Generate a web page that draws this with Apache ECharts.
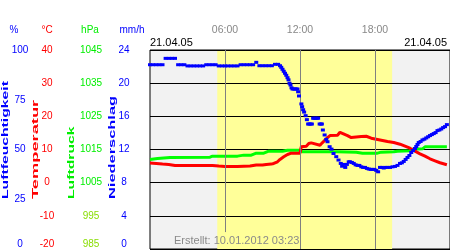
<!DOCTYPE html>
<html><head><meta charset="utf-8">
<script src="https://cdn.jsdelivr.net/npm/echarts@6/dist/echarts.min.js"></script>
<style>html,body{margin:0;padding:0;background:#fff}#c{width:450px;height:250px}</style>
</head><body><div id="c"></div>
<script>
// ---- data (hours since 00:00, value) ----
const humidity = [
 [0,92.6],[0.25,92.6],[0.5,92.6],[0.75,92.6],[1.0,92.6],
 [1.25,95.8],[1.5,95.8],[1.75,95.8],[2.0,95.8],
 [2.25,92.6],[2.5,92.6],[2.75,92.6],
 [3.0,92],[3.25,92],[3.5,92],[3.75,92],[4.0,92],[4.25,92],
 [4.5,92.6],[4.75,92.6],[5.0,92.6],[5.25,92.6],
 [5.5,92],[5.75,92],[6.0,92],[6.25,92],[6.5,92],[6.75,92],[7.0,92],
 [7.25,92.6],[7.5,92.6],[7.75,92.6],[8.0,92.6],[8.25,92.6],
 [8.5,93.8],
 [8.75,92.1],[9.0,92.1],[9.25,92.1],[9.5,92.1],[9.75,92.1],
 [10.0,92.8],[10.25,92.8],[10.4,92.1],[10.5,91.3],[10.6,90.3],[10.7,89.3],[10.8,88.3],[10.9,87.3],
 [11.0,86.1],[11.08,85],[11.16,83.3],[11.24,82.4],[11.32,81],
 [11.4,80.4],[11.5,80.4],[11.6,80.4],[11.7,80.4],[11.8,80.4],[11.85,79],[11.92,76.9],
 [12.11,72.9],[12.17,71.5],[12.25,70],[12.33,68.8],[12.45,67],[12.55,65],
 [12.65,62.8],[12.75,62.8],[12.85,62.8],[12.95,62.8],
 [13.05,65.7],[13.15,65.7],[13.25,65.7],[13.35,65.7],[13.45,65.7],
 [13.57,62.8],[13.67,62.8],[13.75,62.8],[13.83,59.8],[13.97,57.3],
 [14.1,55.1],[14.2,53.9],[14.37,51.4],[14.52,50.2],[14.68,48],[14.9,46.4],
 [15.08,44.7],[15.26,43],[15.37,41.6],[15.5,42.5],[15.62,41],[15.75,42.5],[15.9,43.8],
 [16.0,43.8],[16.15,43.5],[16.3,43],[16.45,42.3],[16.6,42],[16.75,42],[16.9,41.3],
 [17.05,41],[17.2,41],[17.35,40.5],[17.5,40.2],[17.65,40],[17.8,40],[17.95,40],
 [18.1,39.5],[18.25,38.8],[18.4,41],[18.55,41],[18.7,40.7],[18.85,41],
 [19.0,41],[19.2,41],[19.4,41.3],[19.6,41.5],[19.8,42],
 [20.0,43],[20.15,43.3],[20.3,44],[20.45,45],[20.6,46],[20.75,47],[20.9,48.5],
 [21.05,49.5],[21.2,50.5],[21.3,51.5],[21.4,52.5],[21.5,53.5],[21.65,54],[21.8,54.8],[21.95,55.2],
 [22.1,55.8],[22.25,56.4],[22.4,57],[22.55,57.5],[22.7,58],[22.85,58.5],
 [23.0,59.5],[23.15,59.8],[23.3,60.3],[23.45,61],[23.6,61.5],[23.75,62.5]
];
const temperature = [
 [0,5.9],[0.5,5.8],[1,5.6],[1.5,5.5],[2,5.2],[3,5.2],[4,5.2],[5,5.2],[5.5,5.0],[6,4.9],[7,4.9],
 [8,5.0],[8.5,5.3],[9,5.3],[9.3,5.5],[9.7,5.6],[9.9,5.8],[10.2,6.3],[10.4,7.0],[10.7,7.8],
 [11.0,8.5],[11.3,8.9],[12.0,8.9],[12.1,10.8],[12.5,11.0],[12.7,11.8],[12.9,12.0],[13.0,11.4],
 [13.6,11.3],[13.8,12.1],[14.0,12.8],[14.2,13.6],[14.4,14.2],[15.0,14.3],[15.2,15.2],[15.35,14.6],
 [15.8,14.2],[16.1,13.6],[16.5,13.8],[16.9,13.9],[17.3,14.0],[17.7,13.4],[18.1,13.1],[18.5,12.8],
 [19.0,12.4],[19.5,12.1],[20.0,11.6],[20.4,11.0],[20.8,10.4],[21.2,9.5],[21.6,8.7],[22.0,8.0],
 [22.4,7.2],[22.8,6.6],[23.2,6.0],[23.75,5.4]
];
const pressure = [
 [0,1012.0],[0.6,1012.3],[1.6,1012.6],[4.8,1012.7],[5.0,1013.0],[7.0,1013.0],[7.5,1013.3],
 [8.1,1013.3],[8.5,1013.9],[9.1,1013.9],[9.5,1014.5],[10.6,1014.5],[11.0,1014.8],[12.0,1014.8],
 [12.2,1014.3],[15.0,1014.3],[16.5,1014.2],[17.0,1013.9],[18.2,1013.9],[18.5,1014.2],[19.5,1014.3],
 [19.8,1014.5],[20.8,1014.6],[21.0,1015.1],[21.8,1015.2],[22.0,1015.8],[23.75,1015.8]
];
const precipitation = [];

// ---- axes / labels ----
const humidityTicks = [0, 25, 50, 75, 100];
const temperatureTicks = [-20, -10, 0, 10, 20, 30, 40];
const pressureTicks = [985, 995, 1005, 1015, 1025, 1035, 1045];
const precipTicks = [0, 4, 8, 12, 16, 20, 24];
const timeTickHours = [6, 12, 18];
const timeTickLabels = ['06:00', '12:00', '18:00'];
const daylight = [5.38, 19.37];
const dateLabel = '21.04.05';
const createdLabel = 'Erstellt: 10.01.2012 03:23';
const units = ['%', '°C', 'hPa', 'mm/h'];
const titles = ['Luftfeuchtigkeit', 'Temperatur', 'Luftdruck', 'Niederschlag'];

const FONT = '"Liberation Sans", Arial, sans-serif';
const BLUE = '#0000ff', RED = '#ff0000', GREEN = '#00ee00';

function yAx(ticks, offset, color, extra) {
  return Object.assign({
    type: 'value', position: 'left', offset: offset,
    min: ticks[0], max: ticks[ticks.length - 1], interval: ticks[1] - ticks[0],
    axisLine: {show: false}, axisTick: {show: false}, splitLine: {show: false},
    axisLabel: {margin: 0, align: 'center', verticalAlign: 'middle', verticalAlignMinLabel: 'bottom',
      color: color, fontSize: 10, fontFamily: FONT}
  }, extra || {});
}

const chart = echarts.init(document.getElementById('c'), null, {renderer: 'canvas'});
const yAxes = [
  yAx(humidityTicks, 130, BLUE),
  yAx(temperatureTicks, 103, RED, {z: 2, splitLine: {show: true, lineStyle: {color: '#000', width: 1}}}),
  yAx(pressureTicks, 59, GREEN),
  yAx(precipTicks, 26, BLUE)
];
yAxes[2].axisLabel.formatter = v => v < 1005 ? '{y|' + v + '}' : '{g|' + v + '}';
yAxes[2].axisLabel.rich = {y: {color: '#88dd00', fontSize: 10, fontFamily: FONT}, g: {color: GREEN, fontSize: 10, fontFamily: FONT}};

const graphics = [];
const unitX = [14, 47, 90, 132];
const unitColors = [BLUE, RED, GREEN, BLUE];
units.forEach((u, i) => graphics.push({type: 'text', x: unitX[i], y: 30,
  style: {text: u, fill: unitColors[i], font: '10px ' + FONT, align: 'center', verticalAlign: 'middle'}}));
const titleX = [5.5, 35.5, 72, 113];
const titleScale = [1.85, 2.15, 1.85, 1.93];
titles.forEach((t, i) => graphics.push({type: 'text', x: titleX[i], y: 199, rotation: Math.PI / 2, scaleX: titleScale[i],
  style: {text: t, fill: unitColors[i], font: 'bold 8.5px ' + FONT, align: 'left', verticalAlign: 'middle'}}));
graphics.push({type: 'text', x: 150, y: 43, style: {text: dateLabel, fill: '#000', font: '11px ' + FONT, align: 'left', verticalAlign: 'middle'}});
graphics.push({type: 'text', x: 447, y: 43, style: {text: dateLabel, fill: '#000', font: '11px ' + FONT, align: 'right', verticalAlign: 'middle'}});
graphics.push({type: 'text', x: 174, y: 241, z: 10, style: {text: createdLabel, fill: '#8a8a8a', font: '11px ' + FONT, align: 'left', verticalAlign: 'middle'}});

chart.setOption({
  animation: false,
  backgroundColor: '#fff',
  grid: {left: 150, top: 50, right: -2, bottom: 1, show: true, backgroundColor: '#f2f2f2', borderColor: '#000', borderWidth: 1, z: 0},
  xAxis: {
    type: 'value', position: 'top', min: 0, max: 24, interval: 6, z: 2,
    axisLine: {show: false}, axisTick: {show: false}, splitLine: {show: false},
    axisLabel: {margin: 20, verticalAlign: 'middle', color: '#888', fontSize: 10.5, fontFamily: FONT,
      showMinLabel: false, showMaxLabel: false,
      formatter: v => { const i = timeTickHours.indexOf(v); return i >= 0 ? timeTickLabels[i] : ''; }}
  },
  yAxis: yAxes,
  graphic: graphics,
  series: [
    {
      type: 'line', yAxisIndex: 0, data: [], z: 1, silent: true,
      markArea: {silent: true, itemStyle: {color: '#ffff99', opacity: 1, borderWidth: 0},
        data: [[{xAxis: daylight[0]}, {xAxis: daylight[1]}]]},
      markLine: {silent: true, symbol: 'none', label: {show: false},
        lineStyle: {color: '#808080', width: 1, type: 'solid'},
        data: [
          [{coord: [timeTickHours[0], 8.5]}, {coord: [timeTickHours[0], 100]}],
          [{coord: [timeTickHours[1], 0]}, {coord: [timeTickHours[1], 100]}],
          [{coord: [timeTickHours[2], 0]}, {coord: [timeTickHours[2], 100]}]
        ]}
    },
    {type: 'line', name: 'Luftdruck', yAxisIndex: 2, data: pressure, z: 3, showSymbol: false,
      lineStyle: {color: '#00ff00', width: 3}, itemStyle: {color: '#00ff00'}},
    {type: 'line', name: 'Temperatur', yAxisIndex: 1, data: temperature, z: 4, showSymbol: false,
      lineStyle: {color: RED, width: 3}, itemStyle: {color: RED}},
    {type: 'bar', name: 'Niederschlag', yAxisIndex: 3, data: precipitation, z: 4, itemStyle: {color: BLUE}},
    {type: 'scatter', name: 'Luftfeuchtigkeit', yAxisIndex: 0, data: humidity, z: 5,
      symbol: 'rect', symbolSize: [4, 3], itemStyle: {color: BLUE, opacity: 1}}
  ]
});
</script></body></html>
